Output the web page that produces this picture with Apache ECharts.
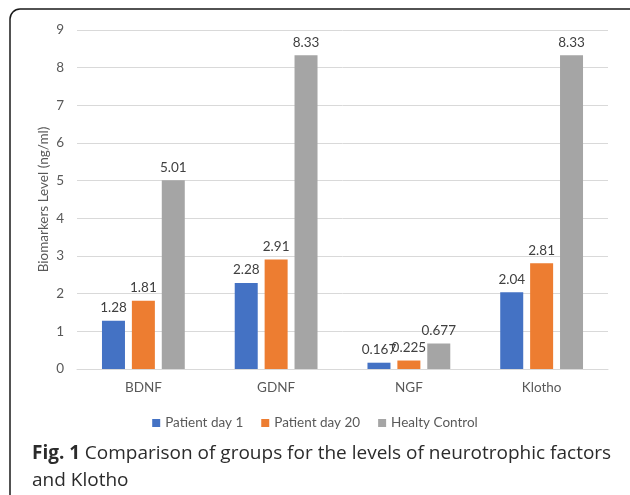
<!DOCTYPE html>
<html>
<head>
<meta charset="utf-8">
<script src="https://cdn.jsdelivr.net/npm/echarts@6/dist/echarts.min.js"></script>
<style>
html,body{margin:0;padding:0;background:#fff;}
#c{width:630px;height:495px;}
</style>
</head>
<body>
<div id="c"></div>
<script>
const categories = ['BDNF', 'GDNF', 'NGF', 'Klotho'];
const seriesNames = ['Patient day 1', 'Patient day 20', 'Healty Control'];
const patientDay1 = [1.28, 2.28, 0.167, 2.04];
const patientDay20 = [1.81, 2.91, 0.225, 2.81];
const healthyControl = [5.01, 8.33, 0.677, 8.33];
const yTicks = [0, 1, 2, 3, 4, 5, 6, 7, 8, 9];
const colors = ['#4472C4', '#ED7D31', '#A5A5A5'];

const chartFont = 'Lato';
const fs = 13.5;
const chart = echarts.init(document.getElementById('c'));
const mk = (name, data, color) => ({
  name: name,
  type: 'bar',
  data: data,
  barWidth: 23,
  barGap: '30%',
  itemStyle: { color: color },
  label: {
    show: true,
    position: 'top',
    distance: 6,
    color: '#404040',
    fontFamily: chartFont,
    fontSize: fs
  }
});
chart.setOption({
  animation: false,
  textStyle: { fontFamily: chartFont },
  graphic: [{
    type: 'rect',
    shape: { x: 10, y: 9, width: 640, height: 500, r: 10 },
    style: { fill: 'none', stroke: '#1a1a1a', lineWidth: 1.5 },
    z: 0
  }],
  title: {
    left: 27,
    top: 435,
    text: '{b|Fig. 1} {n|Comparison of groups for the levels of neurotrophic factors}\n{n|and Klotho}',
    textStyle: {
      fontWeight: 'normal',
      rich: {
        b: { fontFamily: 'Open Sans', fontWeight: 'bold', fontSize: 19, color: '#2b2b2b', lineHeight: 27 },
        n: { fontFamily: 'Open Sans', fontWeight: 'normal', fontSize: 19, color: '#2b2b2b', lineHeight: 27 }
      }
    }
  },
  legend: {
    data: seriesNames,
    top: 411,
    left: 'center',
    icon: 'rect',
    itemWidth: 8,
    itemHeight: 8,
    itemGap: 18,
    textStyle: { color: '#595959', fontSize: fs, fontFamily: chartFont }
  },
  grid: { left: 77, right: 22, top: 30, bottom: 126 },
  xAxis: {
    type: 'category',
    data: categories,
    axisLine: { lineStyle: { color: '#d9d9d9' } },
    axisTick: { show: false },
    axisLabel: { color: '#595959', fontSize: fs, margin: 12, fontFamily: chartFont }
  },
  yAxis: {
    type: 'value',
    min: yTicks[0],
    max: yTicks[yTicks.length - 1],
    interval: 1,
    name: 'Biomarkers Level (ng/ml)',
    nameLocation: 'middle',
    nameGap: 26,
    nameMoveOverlap: false,
    nameTextStyle: { color: '#595959', fontSize: fs, fontFamily: chartFont },
    axisLine: { show: false },
    axisTick: { show: false },
    axisLabel: { color: '#595959', fontSize: fs, margin: 13, fontFamily: chartFont },
    splitLine: { lineStyle: { color: '#d9d9d9' } }
  },
  series: [
    mk(seriesNames[0], patientDay1, colors[0]),
    mk(seriesNames[1], patientDay20, colors[1]),
    mk(seriesNames[2], healthyControl, colors[2])
  ]
});
</script>
</body>
</html>
